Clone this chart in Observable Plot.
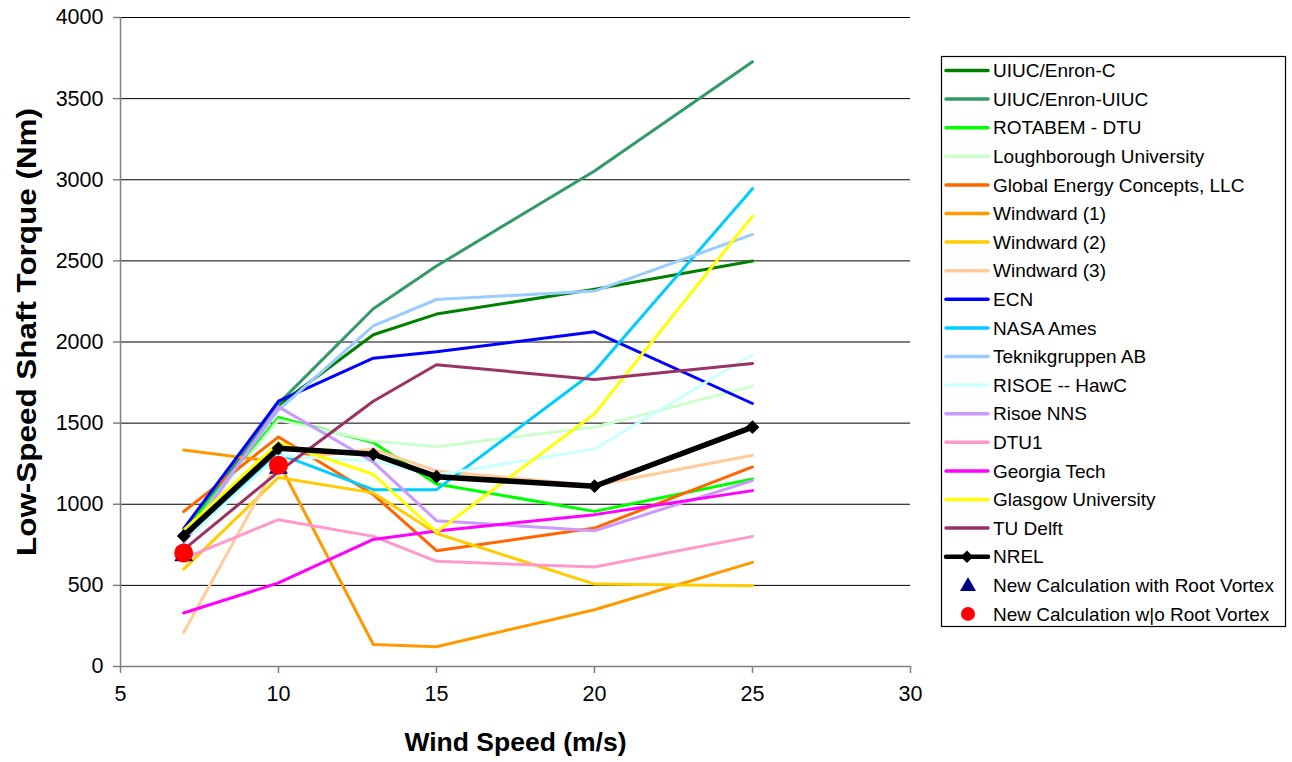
<!DOCTYPE html>
<html><head><meta charset="utf-8">
<script src="https://cdn.jsdelivr.net/npm/d3@7"></script>
<script src="https://cdn.jsdelivr.net/npm/@observablehq/plot@0.6"></script>
<style>
body{margin:0;background:#fff;}
#wrap{position:relative;width:1292px;height:762px;font-family:"Liberation Sans",Arial,sans-serif;}
#wrap svg.overlay{position:absolute;left:0;top:0;}
</style></head><body><div id="wrap"></div>
<script>
// ---- data ----
const windSpeed = [7, 10, 13, 15, 20, 25];
const xTicks = [5, 10, 15, 20, 25, 30];
const yTicks = [0, 500, 1000, 1500, 2000, 2500, 3000, 3500, 4000];

const seriesNames = [
  "UIUC/Enron-C", "UIUC/Enron-UIUC", "ROTABEM - DTU", "Loughborough University",
  "Global Energy Concepts, LLC", "Windward (1)", "Windward (2)", "Windward (3)",
  "ECN", "NASA Ames", "Teknikgruppen AB", "RISOE -- HawC", "Risoe NNS", "DTU1",
  "Georgia Tech", "Glasgow University", "TU Delft"
];
const seriesColors = [
  "#008000", "#339966", "#00FF00", "#CCFFCC", "#FF6600", "#FF9900", "#FFCC00", "#FFCC99",
  "#0000FF", "#00CCFF", "#99CCFF", "#CCFFFF", "#CC99FF", "#FF99CC", "#FF00FF", "#FFFF00", "#993366"
];

const uiucEnronC     = [820, 1610, 2045, 2172, 2325, 2499];
const uiucEnronUiuc  = [820, 1620, 2205, 2468, 3054, 3727];
const rotabemDtu     = [830, 1535, 1380, 1125, 956, 1156];
const loughborough   = [800, 1520, 1390, 1355, 1475, 1728];
const globalEnergy   = [955, 1415, 1060, 714, 853, 1230];
const windward1      = [1335, 1260, 136, 122, 350, 642];
const windward2      = [600, 1165, 1070, 820, 508, 498];
const windward3      = [210, 1270, 1340, 1205, 1115, 1302];
const ecn            = [850, 1635, 1900, 1940, 2063, 1621];
const nasaAmes       = [780, 1310, 1090, 1090, 1820, 2945];
const teknikgruppen  = [790, 1580, 2100, 2262, 2314, 2663];
const risoeHawc      = [770, 1300, 1265, 1180, 1341, 1923];
const risoeNns       = [760, 1600, 1260, 899, 837, 1146];
const dtu1           = [665, 905, 802, 648, 613, 802];
const georgiaTech    = [330, 515, 783, 835, 936, 1084];
const glasgow        = [840, 1380, 1185, 828, 1557, 2776];
const tuDelft        = [720, 1200, 1635, 1860, 1769, 1868];
const nrel           = [805, 1345, 1308, 1170, 1111, 1475];

const newCalcSpeeds = [7, 10];
const withRootVortex = [682, 1222];
const withoutRootVortex = [700, 1240];

const seriesValues = [uiucEnronC, uiucEnronUiuc, rotabemDtu, loughborough, globalEnergy,
  windward1, windward2, windward3, ecn, nasaAmes, teknikgruppen, risoeHawc, risoeNns,
  dtu1, georgiaTech, glasgow, tuDelft];

// ---- chart ----
const FONT = "Liberation Sans, Arial, sans-serif";
const toRows = (xs, vals) => xs.map((x, i) => ({x, y: vals[i]}));

const marks = [
  Plot.ruleY(yTicks.filter(d => d > 0), {stroke: "#000", strokeWidth: 1}),
  Plot.ruleX([5], {y1: 0, y2: 4000, stroke: "#808080", strokeWidth: 1.5}),
  Plot.ruleY([0], {stroke: "#808080", strokeWidth: 1.5}),
  Plot.axisY({ticks: yTicks, tickFormat: d => String(d), tickSize: 7, tickPadding: 10, fontSize: 21.5, label: null, stroke: "#808080", strokeWidth: 1.5}),
  Plot.axisX({ticks: xTicks, tickFormat: d => String(d), tickSize: 7, tickPadding: 12, fontSize: 21.5, label: null, stroke: "#808080", strokeWidth: 1.5}),
  Plot.text(["Wind Speed (m/s)"], {frameAnchor: "bottom", dy: 76, fontSize: 26.5, fontWeight: "bold", textAnchor: "middle", lineAnchor: "middle"}),
  Plot.text(["Low-Speed Shaft Torque (Nm)"], {frameAnchor: "left", rotate: -90, dx: -93, dy: -10, fontSize: 27, fontWeight: "bold", textAnchor: "middle", lineAnchor: "middle", className: "ytitle"})
];
seriesValues.forEach((vals, i) => {
  marks.push(Plot.line(toRows(windSpeed, vals), {x: "x", y: "y", stroke: seriesColors[i], strokeWidth: 3, strokeLinejoin: "round", strokeLinecap: "round"}));
});
marks.push(Plot.line(toRows(windSpeed, nrel), {x: "x", y: "y", stroke: "#000", strokeWidth: 5.5, strokeLinejoin: "round"}));
marks.push(Plot.dot(toRows(windSpeed, nrel), {x: "x", y: "y", symbol: "diamond2", r: 6.2, fill: "#000", stroke: "none"}));
marks.push(Plot.dot(toRows(newCalcSpeeds, withRootVortex), {x: "x", y: "y", symbol: "triangle", r: 7, fill: "#000080", stroke: "none"}));
marks.push(Plot.dot(toRows(newCalcSpeeds, withoutRootVortex), {x: "x", y: "y", r: 9.5, fill: "#FF0000", stroke: "none"}));

const chart = Plot.plot({
  width: 1292, height: 762,
  marginLeft: 120, marginRight: 382, marginTop: 17, marginBottom: 96,
  style: {fontFamily: FONT, color: "#000", background: "#fff"},
  x: {domain: [5, 30]},
  y: {domain: [0, 4000]},
  marks
});
const wrap = document.getElementById("wrap");
wrap.appendChild(chart);
// stretch the y-axis title along its length, as in the reference
d3.select(chart).selectAll("g.ytitle text, .ytitle text")
  .attr("textLength", 448).attr("lengthAdjust", "spacingAndGlyphs");

// ---- legend ----
const legendNames = [...seriesNames, "NREL", "New Calculation with Root Vortex", "New Calculation w|o Root Vortex"];
const lg = d3.select(wrap).append("svg").attr("class", "overlay")
  .attr("width", 1292).attr("height", 762).style("font-family", FONT);
lg.append("rect").attr("x", 941.5).attr("y", 56.5).attr("width", 344).attr("height", 570)
  .attr("fill", "#fff").attr("stroke", "#000").attr("stroke-width", 1.2);
legendNames.forEach((name, i) => {
  const cy = 70.5 + i * 28.6;
  const g = lg.append("g");
  if (i < seriesNames.length) {
    g.append("line").attr("x1", 946).attr("x2", 988).attr("y1", cy).attr("y2", cy)
      .attr("stroke", seriesColors[i]).attr("stroke-width", 3.5).attr("stroke-linecap", "round");
  } else if (name === "NREL") {
    g.append("line").attr("x1", 946).attr("x2", 988).attr("y1", cy).attr("y2", cy)
      .attr("stroke", "#000").attr("stroke-width", 4.5).attr("stroke-linecap", "round");
    g.append("path").attr("d", d3.symbol(d3.symbolDiamond2, 100)()).attr("transform", `translate(967,${cy})`).attr("fill", "#000");
  } else if (name.includes("with")) {
    g.append("path").attr("d", d3.symbol(d3.symbolTriangle, 110)()).attr("transform", `translate(968,${cy + 1})`).attr("fill", "#000080");
  } else {
    g.append("circle").attr("cx", 968).attr("cy", cy).attr("r", 7).attr("fill", "#FF0000");
  }
  g.append("text").attr("x", 993).attr("y", cy).attr("dy", "0.35em")
    .attr("font-size", 19).attr("fill", "#000").text(name);
});
</script></body></html>
